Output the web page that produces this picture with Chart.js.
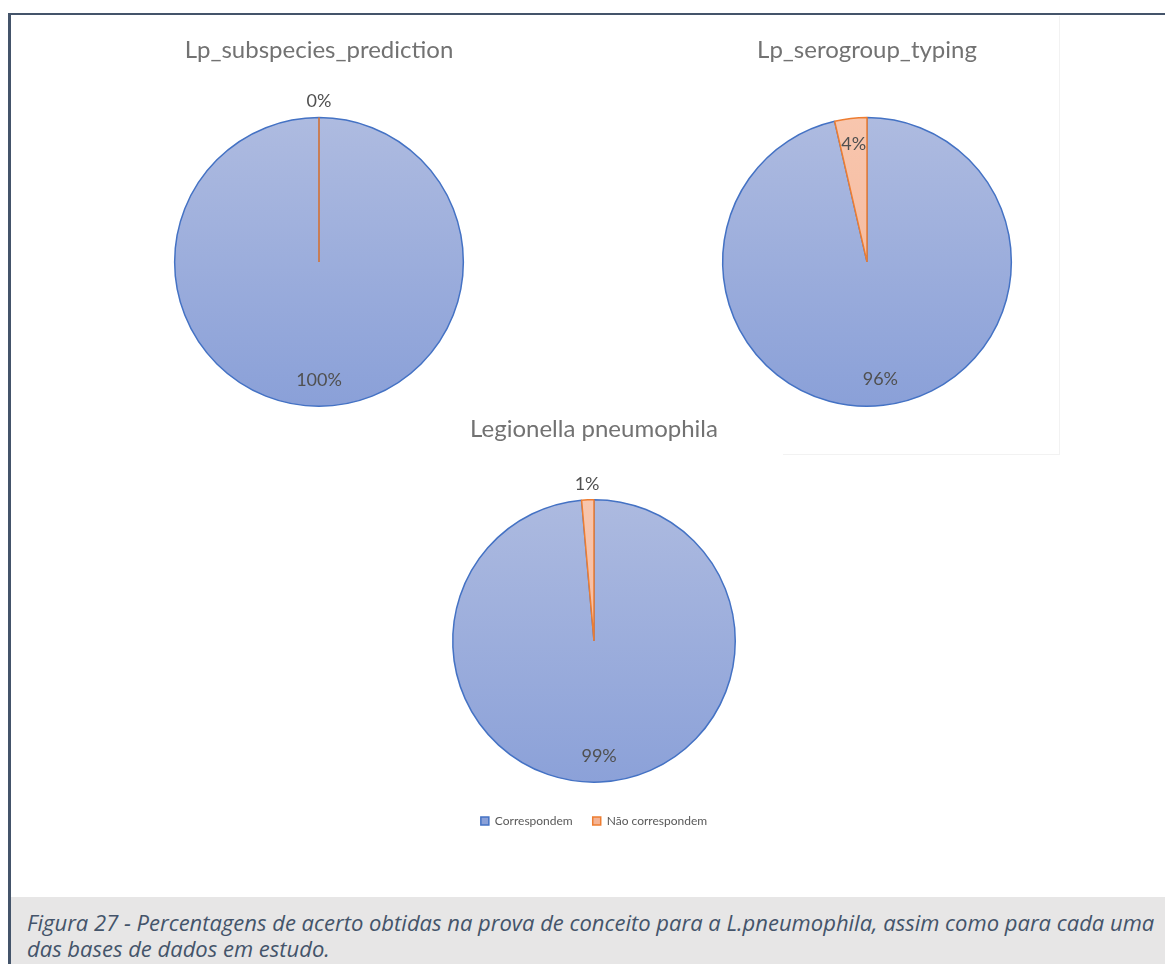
<!DOCTYPE html>
<html>
<head>
<meta charset="utf-8">
<script src="https://cdn.jsdelivr.net/npm/chart.js@4/dist/chart.umd.min.js"></script>
<style>
    html, body { margin: 0; padding: 0; background: #ffffff; }
    body { width: 1165px; height: 964px; position: relative; overflow: hidden; }
    .frame-top { position: absolute; left: 8px; top: 13px; width: 1157px; height: 2px; background: #44546a; }
    .frame-left { position: absolute; left: 8px; top: 13px; width: 3px; height: 951px; background: #44546a; }
    .ghost-box { position: absolute; left: 783px; top: 16px; width: 276px; height: 438px; border-right: 1px solid #f2f2f2; border-bottom: 1px solid #f2f2f2; }
    .chart-box { position: absolute; }
    #box1 { left: 119px; top: 31px; width: 400px; height: 386px; }
    #box2 { left: 667px; top: 31px; width: 400px; height: 386px; }
    #box3 { left: 394px; top: 410px; width: 400px; height: 432px; }
    .caption {
        position: absolute; left: 11px; top: 897px; width: 1154px; height: 67px;
        background: #e7e6e6; box-sizing: border-box; padding: 12px 0 0 16px;
        font-family: "Open Sans", sans-serif; font-style: italic; font-size: 22px; line-height: 26px;
        color: #44546a; white-space: nowrap;
    }
</style>
</head>
<body>
<div class="frame-top"></div>
<div class="frame-left"></div>
<div class="ghost-box"></div>
<div class="chart-box" id="box1"><canvas id="chart1"></canvas></div>
<div class="chart-box" id="box2"><canvas id="chart2"></canvas></div>
<div class="chart-box" id="box3"><canvas id="chart3"></canvas></div>
<div class="caption">Figura 27 - Percentagens de acerto obtidas na prova de conceito para a L.pneumophila, assim como para cada uma<br>das bases de dados em estudo.</div>
<script>
const categories = ['Correspondem', 'Não correspondem'];
const chartTitles = ['Lp_subspecies_prediction', 'Lp_serogroup_typing', 'Legionella pneumophila'];
const subspeciesValues = [100, 0];
const serogroupValues = [96.4, 3.6];
const pneumophilaValues = [98.6, 1.4];

const gradientStops = [['#aebbe0', '#8aa0d8'], ['#f8c6ae', '#f4b394']];
const borderColors = ['#4472c4', '#ed7d31'];

// vertical gradient over the pie, like Excel's preset fill
function sliceFill(ctx) {
    const [top, bottom] = gradientStops[ctx.dataIndex % 2];
    const area = ctx.chart.chartArea;
    if (!area) return bottom;
    const g = ctx.chart.ctx.createLinearGradient(0, area.top, 0, area.bottom);
    g.addColorStop(0, top);
    g.addColorStop(1, bottom);
    return g;
}

// percentage labels, big slices inside, small ones just outside the rim
const pctLabels = {
    id: 'pctLabels',
    afterDatasetsDraw(chart) {
        const ctx = chart.ctx;
        const meta = chart.getDatasetMeta(0);
        const values = chart.data.datasets[0].data;
        const total = values.reduce((a, b) => a + b, 0);
        ctx.save();
        ctx.textAlign = 'center';
        ctx.textBaseline = 'middle';
        ctx.fillStyle = '#505050';
        ctx.font = '18px Lato, sans-serif';
        meta.data.forEach((arc, i) => {
            const p = arc.getProps(['x', 'y', 'startAngle', 'endAngle', 'outerRadius'], true);
            const pct = values[i] / total * 100;
            const mid = (p.startAngle + p.endAngle) / 2;
            if (values[i] === 0) {
                // Excel still draws an empty slice as a single edge line
                ctx.strokeStyle = borderColors[i];
                ctx.lineWidth = 1.5;
                ctx.beginPath();
                ctx.moveTo(p.x, p.y);
                ctx.lineTo(p.x + Math.cos(p.startAngle) * p.outerRadius, p.y + Math.sin(p.startAngle) * p.outerRadius);
                ctx.stroke();
            }
            const dist = pct < 2 ? p.outerRadius + 16 : p.outerRadius * 0.82;
            ctx.fillText(Math.round(pct) + '%', p.x + Math.cos(mid) * dist, p.y + Math.sin(mid) * dist);
        });
        ctx.restore();
    }
};

function makePie(canvasId, title, values, extra) {
    return new Chart(document.getElementById(canvasId), {
        type: 'pie',
        data: {
            labels: categories,
            datasets: [{
                data: values,
                backgroundColor: sliceFill,
                borderColor: borderColors,
                borderWidth: 1.5,
            }]
        },
        options: {
            responsive: true,
            maintainAspectRatio: false,
            animation: false,
            events: [],
            layout: { padding: extra.layoutPadding },
            plugins: {
                title: {
                    display: true,
                    text: title,
                    color: '#727272',
                    font: { family: 'Lato, sans-serif', size: 24, weight: 'normal' },
                    padding: { top: 5, bottom: extra.titleGap },
                },
                legend: extra.legend,
                tooltip: { enabled: false },
            }
        },
        plugins: [pctLabels]
    });
}

makePie('chart1', chartTitles[0], subspeciesValues, {
    layoutPadding: { bottom: 10 },
    titleGap: 52,
    legend: { display: false },
});

makePie('chart2', chartTitles[1], serogroupValues, {
    layoutPadding: { bottom: 10 },
    titleGap: 52,
    legend: { display: false },
});

makePie('chart3', chartTitles[2], pneumophilaValues, {
    layoutPadding: { left: 58, right: 58, bottom: 5 },
    titleGap: 43,
    legend: {
        display: true,
        position: 'bottom',
        labels: {
            boxWidth: 8,
            boxHeight: 8,
            padding: 20,
            color: '#595959',
            font: { family: 'Lato, sans-serif', size: 12 },
        }
    },
});
</script>
</body>
</html>
